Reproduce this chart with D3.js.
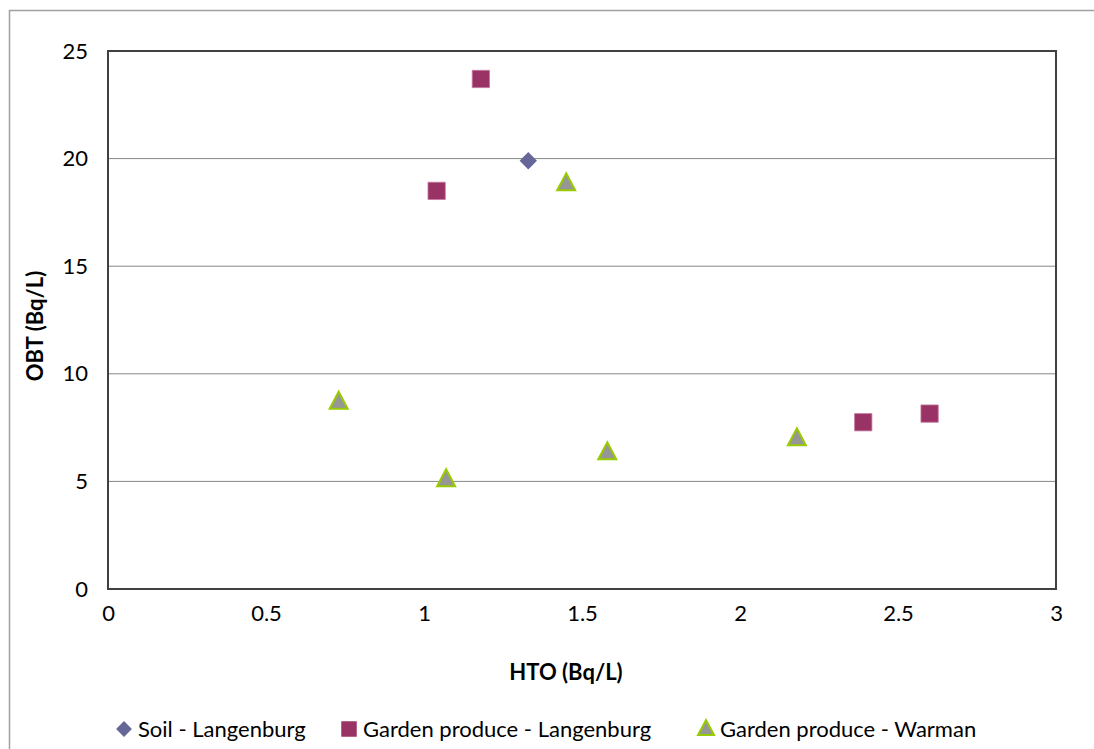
<!DOCTYPE html>
<html>
<head>
<meta charset="utf-8">
<script src="https://cdn.jsdelivr.net/npm/d3@7"></script>
<style>
  body { margin: 0; background: #fff; }
  svg text { font-family: Lato, "Open Sans", sans-serif; fill: #000; }
</style>
</head>
<body>
<div id="chart"></div>
<script>
// data
var soilLangenburg = [
  {hto: 1.33, obt: 19.9}
];
var gardenLangenburg = [
  {hto: 1.18, obt: 23.7},
  {hto: 1.04, obt: 18.5},
  {hto: 2.39, obt: 7.75},
  {hto: 2.60, obt: 8.15}
];
var gardenWarman = [
  {hto: 0.73, obt: 8.75},
  {hto: 1.07, obt: 5.15},
  {hto: 1.58, obt: 6.4},
  {hto: 2.18, obt: 7.05},
  {hto: 1.45, obt: 18.9}
];
var xTicks = [0, 0.5, 1, 1.5, 2, 2.5, 3];
var yTicks = [0, 5, 10, 15, 20, 25];
var seriesNames = ["Soil - Langenburg", "Garden produce - Langenburg", "Garden produce - Warman"];

var W = 1094, H = 749;
var margin = {top: 51, right: 38, bottom: 160, left: 108};
var width = W - margin.left - margin.right,
    height = H - margin.top - margin.bottom;
var fs = "22px";

var svg = d3.select("#chart").append("svg")
  .attr("width", W).attr("height", H);

// outer chart frame (runs off the right/bottom edge)
svg.append("rect")
  .attr("x", 9.5).attr("y", 10.5)
  .attr("width", W + 20).attr("height", H + 20)
  .attr("fill", "none").attr("stroke", "#a0a0a0").attr("stroke-width", 1.5);

var g = svg.append("g")
  .attr("transform", "translate(" + margin.left + "," + margin.top + ")");

var x = d3.scaleLinear().domain([0, 3]).range([0, width]);
var y = d3.scaleLinear().domain([0, 25]).range([height, 0]);

// gridlines
g.selectAll(".grid")
  .data(yTicks.filter(function(d) { return d > 0 && d < 25; }))
  .enter().append("line")
    .attr("x1", 0).attr("x2", width)
    .attr("y1", function(d) { return y(d); })
    .attr("y2", function(d) { return y(d); })
    .attr("stroke", "#868686").attr("stroke-width", 1);

// plot frame
g.append("rect")
  .attr("x", 0).attr("y", 0).attr("width", width).attr("height", height)
  .attr("fill", "none").attr("stroke", "#404040").attr("stroke-width", 2);

// axes
var xAxis = g.append("g")
  .attr("transform", "translate(0," + height + ")")
  .call(d3.axisBottom(x).tickValues(xTicks).tickSize(0).tickPadding(16)
    .tickFormat(function(d) { return String(d); }));
xAxis.select(".domain").remove();
xAxis.selectAll("text").attr("font-size", fs);

var yAxis = g.append("g")
  .call(d3.axisLeft(y).tickValues(yTicks).tickSize(0).tickPadding(20));
yAxis.select(".domain").remove();
yAxis.selectAll("text").attr("font-size", fs);

// axis titles
svg.append("text")
  .attr("x", 566).attr("y", 680)
  .attr("text-anchor", "middle").attr("font-size", fs).attr("font-weight", "bold")
  .text("HTO (Bq/L)");

svg.append("text")
  .attr("transform", "translate(43," + (margin.top + height / 2 + 6) + ") rotate(-90)")
  .attr("text-anchor", "middle").attr("font-size", fs).attr("font-weight", "bold")
  .text("OBT (Bq/L)");

// markers
var diamond = d3.symbol().type(d3.symbolSquare).size(150);
var square = d3.symbol().type(d3.symbolSquare).size(300);
var triangle = "M0,-10L9,7L-9,7Z";

g.selectAll(".soil").data(soilLangenburg).enter().append("path")
  .attr("d", diamond())
  .attr("transform", function(d) { return "translate(" + x(d.hto) + "," + y(d.obt) + ") rotate(45)"; })
  .attr("fill", "#666699");

g.selectAll(".gl").data(gardenLangenburg).enter().append("path")
  .attr("d", square())
  .attr("transform", function(d) { return "translate(" + x(d.hto) + "," + y(d.obt) + ")"; })
  .attr("fill", "#993366").attr("stroke", "#c77a9f").attr("stroke-width", 0.8);

g.selectAll(".gw").data(gardenWarman).enter().append("path")
  .attr("d", triangle)
  .attr("transform", function(d) { return "translate(" + x(d.hto) + "," + (y(d.obt) + 1) + ")"; })
  .attr("fill", "#969696").attr("stroke", "#99cc00").attr("stroke-width", 2);

// legend
var legend = svg.append("g").attr("transform", "translate(0,729)");
var legendX = [124, 349, 706];

legend.append("path").attr("d", d3.symbol().type(d3.symbolSquare).size(125)())
  .attr("transform", "translate(" + legendX[0] + ",0) rotate(45)").attr("fill", "#666699");
legend.append("path").attr("d", d3.symbol().type(d3.symbolSquare).size(240)())
  .attr("transform", "translate(" + legendX[1] + ",0)").attr("fill", "#993366");
legend.append("path").attr("d", "M0,-9L8,6L-8,6Z")
  .attr("transform", "translate(" + legendX[2] + ",0)")
  .attr("fill", "#969696").attr("stroke", "#99cc00").attr("stroke-width", 2);

legend.selectAll(".lt").data(seriesNames).enter().append("text")
  .attr("x", function(d, i) { return legendX[i] + 14; })
  .attr("y", 8)
  .attr("font-size", fs)
  .text(function(d) { return d; });
</script>
</body>
</html>
